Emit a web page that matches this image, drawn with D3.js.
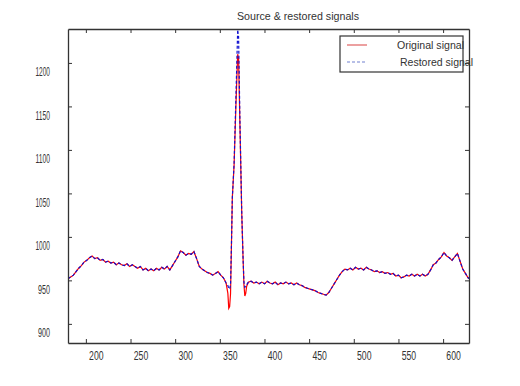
<!DOCTYPE html>
<html><head><meta charset="utf-8">
<script src="https://cdn.jsdelivr.net/npm/d3@7"></script>
<style>body{margin:0;background:#fff;} svg{display:block;}</style>
</head><body><svg id="c" width="520" height="386"></svg>
<script>
const titleText = "Source & restored signals";
const seriesNames = ["Original signal", "Restored signal"];
const xTicks = [200, 250, 300, 350, 400, 450, 500, 550, 600];
const yTicks = [900, 950, 1000, 1050, 1100, 1150, 1200];

const xs = [180,183,186,189,192,195,198,201,204,207,210,213,216,219,222,225,228,231,234,237,
240,243,246,249,252,255,258,261,264,267,270,273,276,279,282,285,288,291,294,297,
300,303,306,309,312,315,318,321,324,327,330,333,336,339,342,345,348,351,354,357,
359,360,361,362,363,364,366,368,370,371,372.5,374.5,376,377,378,379,380,382,
385,388,391,394,397,400,403,406,409,412,415,418,421,424,427,430,433,436,439,442,
445,448,451,454,457,460,463,466,469,472,475,478,481,484,487,490,493,496,499,502,
505,508,511,514,517,520,523,526,529,532,535,538,541,544,547,550,553,556,559,562,
565,568,571,574,577,580,583,586,589,592,595,598,601,604,607,610,613,616,619,622,
625,628,629];

const original = [952,954,956,960,964,967,971,973,976,978,
975,976,973,974,971,972,970,971,968,970,
968,967,969,966,968,966,964,966,962,964,
961,963,961,964,962,965,963,966,962,967,
972,977,984,982,979,981,980,983,975,966,
963,961,959,958,956,958,960,956,953,947,
935,918,920,935,990,1045,1083,1150,1210,1205,1129,1029,976,945,932,935,943,948,
949,947,948,946,948,946,949,947,946,948,
945,947,946,948,946,947,945,947,945,944,
942,941,940,939,938,936,935,934,933,936,
941,946,951,956,960,963,962,964,962,965,
963,964,962,965,963,962,960,961,959,960,
958,959,957,958,955,956,953,954,956,955,
957,955,957,955,957,955,957,962,968,970,
974,977,982,978,976,973,977,981,972,963,
958,953,952];

const restored = [952,954,956,960,964,967,971,973,976,978,
975,976,973,974,971,972,970,971,968,970,
968,967,969,966,968,966,964,966,962,964,
961,963,961,964,962,965,963,966,962,967,
972,977,984,982,979,981,980,983,975,966,
963,961,959,958,956,958,960,956,953,947,
944,941,940,945,990,1045,1085,1160,1238,1230,1135,1030,976,948,942,943,945,948,
949,947,948,946,948,946,949,947,946,948,
945,947,946,948,946,947,945,947,945,944,
942,941,940,939,938,936,935,934,933,936,
941,946,951,956,960,963,962,964,962,965,
963,964,962,965,963,962,960,961,959,960,
958,959,957,958,955,956,953,954,956,955,
957,955,957,955,957,955,957,962,968,970,
974,977,982,978,976,973,977,981,972,963,
958,953,952];

const svg = d3.select("#c");
const L = 68, R = 469, T = 29, B = 343;
const x = d3.scaleLinear().domain([180, 629]).range([L, R]);
const y = d3.scaleLinear().domain([878, 1239]).range([B, T]);
const ink = "#333";
const font = "'Liberation Sans', Arial, sans-serif";

svg.append("defs").append("clipPath").attr("id", "clip")
  .append("rect").attr("x", L).attr("y", T).attr("width", R - L).attr("height", B - T);

const line = d3.line().x((d, i) => x(xs[i])).y(d => y(d));
const g = svg.append("g").attr("clip-path", "url(#clip)");
g.append("path").datum(original).attr("d", line)
  .attr("fill", "none").attr("stroke", "#ff0000").attr("stroke-width", 1.2);
g.append("path").datum(restored).attr("d", line)
  .attr("fill", "none").attr("stroke", "#1010d0").attr("stroke-width", 1.2)
  .attr("stroke-dasharray", "3,2");

// axes
const ax = svg.append("g").attr("transform", `translate(0,${B})`)
  .call(d3.axisBottom(x).tickValues(xTicks).tickSize(-4).tickSizeOuter(0).tickFormat(d3.format("d")));
const axT = svg.append("g").attr("transform", `translate(0,${T})`)
  .call(d3.axisTop(x).tickValues(xTicks).tickSize(-4).tickSizeOuter(0).tickFormat(""));
const ay = svg.append("g").attr("transform", `translate(${L},0)`)
  .call(d3.axisLeft(y).tickValues(yTicks).tickSize(-4).tickSizeOuter(0).tickFormat(d3.format("d")));
const ayR = svg.append("g").attr("transform", `translate(${R},0)`)
  .call(d3.axisRight(y).tickValues(yTicks).tickSize(-4).tickSizeOuter(0).tickFormat(""));

[ax, axT, ay, ayR].forEach(a => {
  a.select(".domain").attr("stroke", ink).attr("stroke-width", 1.3);
  a.selectAll(".tick line").attr("stroke", ink);
});
ax.selectAll("text").attr("x", 10).attr("y", 8)
  .attr("font-family", font).attr("font-size", 12).attr("fill", ink)
  .attr("textLength", 14.5).attr("lengthAdjust", "spacingAndGlyphs");
ay.selectAll("text").attr("x", -18).attr("y", 9)
  .attr("font-family", font).attr("font-size", 12).attr("fill", ink)
  .attr("textLength", d => String(d).length === 4 ? 14.5 : 12)
  .attr("lengthAdjust", "spacingAndGlyphs");

// title
svg.append("text").attr("x", 237).attr("y", 20).text(titleText)
  .attr("font-family", font).attr("font-size", 11).attr("fill", ink)
  .attr("textLength", 122).attr("lengthAdjust", "spacingAndGlyphs");

// legend
const lg = svg.append("g");
lg.append("rect").attr("x", 340).attr("y", 36).attr("width", 123).attr("height", 36)
  .attr("fill", "#fff").attr("stroke", ink).attr("stroke-width", 1.2);
const legColors = ["#e06060", "#7080d0"];
const legDash = [null, "3,2"];
const legText = [{x: 397, w: 67}, {x: 400, w: 73}];
seriesNames.forEach((name, i) => {
  const yy = 45 + i * 17;
  lg.append("line").attr("x1", 347).attr("x2", 367).attr("y1", yy).attr("y2", yy)
    .attr("stroke", legColors[i]).attr("stroke-width", 1.2)
    .attr("stroke-dasharray", legDash[i]);
  lg.append("text").attr("x", legText[i].x).attr("y", yy + 4).text(name)
    .attr("font-family", font).attr("font-size", 11).attr("fill", ink)
    .attr("textLength", legText[i].w).attr("lengthAdjust", "spacingAndGlyphs");
});
</script>
</body></html>
